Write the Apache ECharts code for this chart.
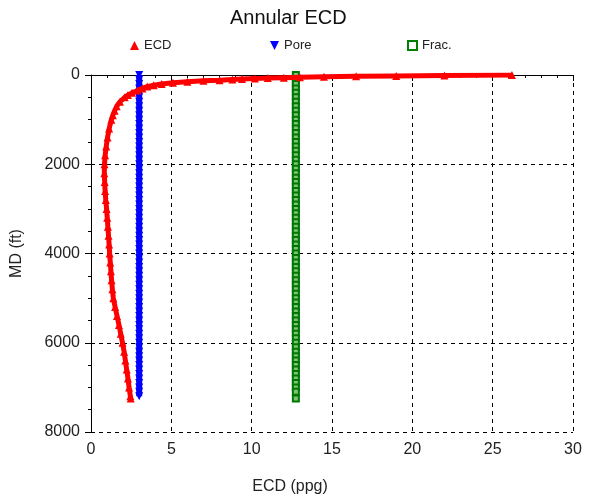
<!DOCTYPE html>
<html><head><meta charset="utf-8">
<script src="https://cdn.jsdelivr.net/npm/echarts@6/dist/echarts.min.js"></script>
<style>html,body{margin:0;padding:0;background:#fff}#c{width:590px;height:500px}</style>
</head><body><div id="c"></div>
<script>
// Data
const ecdDepth = [0,10,20,30,40,50,60,70,80,90,100,115,130,150,175,200,230,260,300,350,400,450,500,600,700,800,900,1000,1200,1400,1600,1800,2000,2200,2400,2600,2800,3000,3200,3400,3600,3800,4000,4200,4400,4600,4800,5000,5200,5400,5600,5800,6000,6200,6400,6600,6800,7000,7200,7250];
const ecdValue = [26.2,22,19,16.5,14.5,13,12,11,10.2,9.4,8.8,8.0,7.0,6.0,5.1,4.4,3.9,3.5,3.2,2.9,2.55,2.3,2.1,1.8,1.6,1.47,1.36,1.27,1.13,1.03,0.95,0.88,0.84,0.83,0.85,0.88,0.92,0.97,1.01,1.05,1.09,1.13,1.16,1.2,1.24,1.28,1.33,1.39,1.5,1.62,1.74,1.85,1.96,2.06,2.14,2.22,2.3,2.37,2.45,2.47];
const poreDepth = [0,100,200,300,400,500,600,700,800,900,1000,1100,1200,1300,1400,1500,1600,1700,1800,1900,2000,2100,2200,2300,2400,2500,2600,2700,2800,2900,3000,3100,3200,3300,3400,3500,3600,3700,3800,3900,4000,4100,4200,4300,4400,4500,4600,4700,4800,4900,5000,5100,5200,5300,5400,5500,5600,5700,5800,5900,6000,6100,6200,6300,6400,6500,6600,6700,6800,6900,7000,7100,7200];
const poreValue = [3.0,3.0,3.0,3.0,3.0,3.0,3.0,3.0,3.0,3.0,3.0,3.0,3.0,3.0,3.0,3.0,3.0,3.0,3.0,3.0,3.0,3.0,3.0,3.0,3.0,3.0,3.0,3.0,3.0,3.0,3.0,3.0,3.0,3.0,3.0,3.0,3.0,3.0,3.0,3.0,3.0,3.0,3.0,3.0,3.0,3.0,3.0,3.0,3.0,3.0,3.0,3.0,3.0,3.0,3.0,3.0,3.0,3.0,3.0,3.0,3.0,3.0,3.0,3.0,3.0,3.0,3.0,3.0,3.0,3.0,3.0,3.0,3.0];
const fracDepth = [0,100,200,300,400,500,600,700,800,900,1000,1100,1200,1300,1400,1500,1600,1700,1800,1900,2000,2100,2200,2300,2400,2500,2600,2700,2800,2900,3000,3100,3200,3300,3400,3500,3600,3700,3800,3900,4000,4100,4200,4300,4400,4500,4600,4700,4800,4900,5000,5100,5200,5300,5400,5500,5600,5700,5800,5900,6000,6100,6200,6300,6400,6500,6600,6700,6800,6900,7000,7100,7250];
const fracValue = [12.75,12.75,12.75,12.75,12.75,12.75,12.75,12.75,12.75,12.75,12.75,12.75,12.75,12.75,12.75,12.75,12.75,12.75,12.75,12.75,12.75,12.75,12.75,12.75,12.75,12.75,12.75,12.75,12.75,12.75,12.75,12.75,12.75,12.75,12.75,12.75,12.75,12.75,12.75,12.75,12.75,12.75,12.75,12.75,12.75,12.75,12.75,12.75,12.75,12.75,12.75,12.75,12.75,12.75,12.75,12.75,12.75,12.75,12.75,12.75,12.75,12.75,12.75,12.75,12.75,12.75,12.75,12.75,12.75,12.75,12.75,12.75,12.75];
const xTicks = [0,5,10,15,20,25,30];
const yTicks = [0,2000,4000,6000,8000];

const pair = (xs, ds) => xs.map((v, i) => [v, ds[i]]);
const FONT = '"Liberation Sans", Arial, sans-serif';
const chart = echarts.init(document.getElementById('c'), null, {renderer: 'canvas'});
const legendBase = {top: 34, itemWidth: 9, itemHeight: 9, itemGap: 10,
  textStyle: {fontFamily: FONT, fontSize: 13, color: '#222'}};
chart.setOption({
  animation: false,
  backgroundColor: '#fff',
  title: {text: 'Annular ECD', left: 225, top: 3,
    textStyle: {fontFamily: FONT, fontSize: 20, fontWeight: 'normal', color: '#111'}},
  legend: [
    Object.assign({}, legendBase, {left: 125, data: [{name: 'ECD', icon: 'triangle'}]}),
    Object.assign({}, legendBase, {left: 265, data: [{name: 'Pore', icon: 'path://M0,0 L10,0 L5,10 Z'}]}),
    Object.assign({}, legendBase, {left: 402, data: [{name: 'Frac.', icon: 'rect', itemStyle: {color: '#fff', borderColor: '#008000', borderWidth: 2}}]})
  ],
  grid: {left: 91, right: 17, top: 75, bottom: 68},
  xAxis: {
    type: 'value', min: xTicks[0], max: xTicks[xTicks.length - 1], interval: 5,
    name: 'ECD (ppg)', nameLocation: 'middle', nameGap: 47,
    nameTextStyle: {fontFamily: FONT, fontSize: 16, color: '#222', padding: [0, 84, 0, 0]},
    axisLine: {show: true, lineStyle: {color: '#000', width: 1}},
    axisTick: {show: true, length: 6, lineStyle: {color: '#000'}},
    minorTick: {show: true, splitNumber: 5, length: 3, lineStyle: {color: '#000'}},
    axisLabel: {fontFamily: FONT, fontSize: 16, color: '#222', margin: 10},
    splitLine: {show: true, lineStyle: {color: '#000', type: [4, 4], width: 1}}
  },
  yAxis: {
    type: 'value', inverse: true, min: yTicks[0], max: yTicks[yTicks.length - 1], interval: 2000,
    name: 'MD (ft)', nameLocation: 'middle', nameGap: 66, nameRotate: 90,
    nameTextStyle: {fontFamily: FONT, fontSize: 16, color: '#222'},
    axisLine: {show: true, onZero: false, lineStyle: {color: '#000', width: 1}},
    axisTick: {show: true, length: 6, lineStyle: {color: '#000'}},
    minorTick: {show: true, splitNumber: 4, length: 3, lineStyle: {color: '#000'}},
    axisLabel: {fontFamily: FONT, fontSize: 16, color: '#222', margin: 11, formatter: v => String(v)},
    splitLine: {show: true, lineStyle: {color: '#000', type: [4, 4], width: 1}}
  },
  series: [
    {name: 'ECD', type: 'line', data: pair(ecdValue, ecdDepth), symbol: 'triangle', symbolSize: 8,
      itemStyle: {color: '#ff0000'}, lineStyle: {color: '#ff0000', width: 5}, z: 4},
    {name: 'Pore', type: 'line', data: pair(poreValue, poreDepth), symbol: 'path://M0,0 L10,0 L5,10 Z', symbolSize: 8,
      itemStyle: {color: '#0000ff'}, lineStyle: {color: '#0000ff', width: 6}, z: 3},
    {name: 'Frac.', type: 'line', data: pair(fracValue, fracDepth), symbol: 'rect', symbolSize: 6,
      itemStyle: {color: '#7cc47c', borderColor: '#007800', borderWidth: 2}, lineStyle: {color: '#007800', width: 6}, z: 2}
  ]
});
</script></body></html>
